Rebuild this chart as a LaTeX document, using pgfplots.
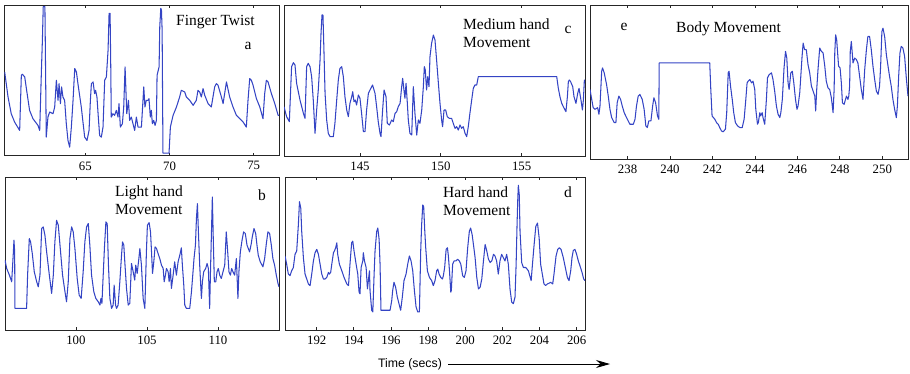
\documentclass[border=0pt]{standalone}
\usepackage{pgfplots}
\pgfplotsset{compat=1.18}
\usepackage{fontspec}
\setmainfont{Liberation Serif}
\newfontfamily\arialf{Liberation Sans}
\usetikzlibrary{arrows.meta}
\definecolor{sigblue}{RGB}{52,68,196}
\pgfplotsset{
  panel/.style={scale only axis, anchor=south west,
    axis line style={draw=black!85, line width=0.8pt},
    ytick=\empty, tick align=inside, major tick length=3pt,
    every tick/.style={black!85, line width=0.8pt},
    xticklabel style={font=\fontsize{12.8}{14}\selectfont, yshift=-2.5pt},
    /pgf/number format/assume math mode=true},
  sig/.style={sigblue, line width=1.05pt, mark=none, line join=round}
}
\newcommand{\lab}{\fontsize{15.5}{18}\selectfont}
\begin{document}
\begin{tikzpicture}
\useasboundingbox (0pt,0pt) rectangle (910pt,-373pt);
% ---- a: Finger Twist
\begin{axis}[panel, at={(4.5pt,-155.5pt)}, width=274.5pt, height=150.5pt,
  xmin=60.2, xmax=76.5, ymin=0, ymax=450, xtick={65,70,75}]
\addplot[sig] coordinates {(60.21,250)(60.41,175)(60.60,125)(60.80,100)(61.10,75)(61.20,240)(61.26,243)(61.40,235)(61.50,200)(61.69,135)(61.89,110)(62.19,90)(62.29,75)(62.39,250)(62.45,345)(62.50,445)(62.60,445)(62.64,250)(62.68,55)(62.78,115)(62.88,130)(63.08,125)(63.18,145)(63.28,225)(63.38,165)(63.44,215)(63.52,155)(63.59,205)(63.67,175)(63.77,165)(63.87,95)(63.97,45)(64.07,25)(64.17,85)(64.27,165)(64.37,260)(64.47,250)(64.56,215)(64.76,145)(64.96,55)(65.10,45)(65.22,75)(65.30,165)(65.36,215)(65.46,220)(65.55,185)(65.61,195)(65.69,175)(65.77,115)(65.85,60)(65.95,55)(66.05,85)(66.15,225)(66.25,235)(66.35,315)(66.41,425)(66.47,425)(66.51,265)(66.54,115)(66.64,125)(66.74,120)(66.84,135)(66.94,115)(67.00,155)(67.08,85)(67.20,95)(67.28,145)(67.36,265)(67.46,125)(67.56,165)(67.63,105)(67.73,115)(67.83,95)(67.93,75)(68.03,115)(68.13,85)(68.33,85)(68.47,205)(68.54,145)(68.62,165)(68.72,165)(68.78,170)(68.86,115)(68.92,135)(68.98,95)(69.06,105)(69.14,90)(69.22,105)(69.26,240)(69.38,265)(69.42,385)(69.48,440)(69.52,435)(69.56,375)(69.61,7)(69.97,7)(70.05,85)(70.21,120)(70.41,145)(70.60,175)(70.70,195)(70.90,190)(71.00,175)(71.20,165)(71.40,150)(71.59,165)(71.69,195)(71.79,190)(71.89,175)(71.99,200)(72.09,180)(72.29,155)(72.48,145)(72.68,205)(72.78,215)(72.88,210)(73.08,175)(73.18,155)(73.38,220)(73.57,175)(73.77,145)(73.97,120)(74.17,110)(74.37,100)(74.56,85)(74.66,165)(74.76,230)(74.86,225)(74.96,210)(75.16,170)(75.36,145)(75.55,110)(75.65,185)(75.75,225)(75.85,220)(76.05,185)(76.25,155)(76.45,120)(76.50,120)};
\end{axis}
% ---- c: Medium hand Movement
\begin{axis}[panel, at={(284pt,-156pt)}, width=301pt, height=151pt,
  xmin=140.3, xmax=158.92, ymin=0, ymax=453, xtick={145,150,155}]
\addplot[sig] coordinates {(140.30,148)(140.46,118)(140.63,103)(140.77,268)(140.88,280)(140.98,273)(141.08,218)(141.29,168)(141.50,128)(141.60,113)(141.70,268)(141.80,278)(141.91,268)(142.01,238)(142.11,168)(142.22,68)(142.32,138)(142.42,198)(142.53,288)(142.59,368)(142.65,423)(142.71,423)(142.77,318)(142.84,188)(142.94,108)(143.04,68)(143.15,58)(143.35,58)(143.45,98)(143.56,168)(143.66,228)(143.76,263)(143.87,268)(143.97,238)(144.07,178)(144.18,138)(144.28,118)(144.38,158)(144.49,178)(144.55,193)(144.63,163)(144.71,168)(144.79,153)(144.90,183)(145.00,173)(145.10,128)(145.21,73)(145.31,73)(145.41,138)(145.52,188)(145.62,198)(145.78,213)(145.93,188)(146.03,148)(146.13,103)(146.24,68)(146.30,58)(146.40,138)(146.49,198)(146.55,188)(146.61,178)(146.69,98)(146.82,93)(146.96,108)(147.06,103)(147.17,128)(147.27,133)(147.37,148)(147.48,158)(147.58,208)(147.64,233)(147.72,198)(147.78,173)(147.85,218)(147.93,158)(147.99,108)(148.09,68)(148.20,63)(148.30,208)(148.40,128)(148.51,63)(148.61,108)(148.71,98)(148.82,138)(148.92,208)(148.98,268)(149.04,258)(149.12,198)(149.19,238)(149.27,208)(149.33,298)(149.43,338)(149.54,363)(149.64,348)(149.74,288)(149.85,218)(149.95,158)(150.05,108)(150.11,88)(150.20,138)(150.30,138)(150.40,118)(150.53,113)(150.67,113)(150.77,98)(150.88,83)(150.98,88)(151.08,78)(151.19,93)(151.29,83)(151.39,88)(151.50,68)(151.60,58)(151.70,88)(151.80,128)(151.91,168)(152.01,203)(152.11,213)(152.22,213)(152.32,238)(157.17,238)(157.27,203)(157.37,178)(157.48,158)(157.58,148)(157.74,133)(157.83,178)(157.89,223)(157.95,228)(158.03,223)(158.16,208)(158.24,178)(158.36,158)(158.47,188)(158.55,203)(158.67,168)(158.76,138)(158.82,168)(158.88,228)(158.92,218)};
\end{axis}
% ---- e: Body Movement
\begin{axis}[panel, at={(590pt,-159pt)}, width=318pt, height=154pt,
  xmin=236.23, xmax=251.21, ymin=0, ymax=465, xtick={238,240,...,250}]
\addplot[sig] coordinates {(236.23,210)(236.31,180)(236.38,155)(236.46,150)(236.59,155)(236.65,135)(236.70,160)(236.78,265)(236.82,275)(236.90,260)(237.01,225)(237.09,190)(237.17,150)(237.25,125)(237.37,110)(237.45,110)(237.51,170)(237.59,190)(237.67,180)(237.75,160)(237.84,140)(237.95,125)(238.11,105)(238.27,105)(238.35,120)(238.42,160)(238.50,190)(238.58,195)(238.69,180)(238.78,150)(238.86,100)(238.93,95)(239.00,115)(239.10,115)(239.18,160)(239.24,185)(239.32,170)(239.41,130)(239.47,120)(239.49,290)(241.87,290)(241.92,210)(241.98,130)(242.11,120)(242.19,110)(242.27,105)(242.34,95)(242.42,85)(242.50,82)(242.61,90)(242.67,140)(242.74,260)(242.78,265)(242.85,220)(242.93,180)(243.00,140)(243.08,110)(243.18,100)(243.29,95)(243.40,95)(243.49,120)(243.57,180)(243.63,230)(243.68,235)(243.76,240)(243.84,230)(243.91,235)(243.99,210)(244.04,150)(244.12,105)(244.16,110)(244.23,140)(244.27,130)(244.34,140)(244.38,125)(244.46,105)(244.54,180)(244.59,245)(244.67,255)(244.78,260)(244.85,240)(244.93,205)(245.01,160)(245.09,135)(245.17,125)(245.22,140)(245.29,180)(245.37,275)(245.44,325)(245.50,305)(245.56,230)(245.61,210)(245.69,260)(245.76,265)(245.83,230)(245.91,180)(245.98,150)(246.03,160)(246.11,200)(246.16,250)(246.22,310)(246.27,350)(246.34,330)(246.42,330)(246.50,285)(246.58,260)(246.66,220)(246.74,205)(246.82,190)(246.86,145)(246.91,210)(246.97,270)(247.05,335)(247.13,325)(247.21,320)(247.29,280)(247.36,235)(247.44,215)(247.52,210)(247.60,185)(247.68,140)(247.73,210)(247.76,320)(247.80,375)(247.85,360)(247.94,280)(248.01,275)(248.07,230)(248.12,170)(248.20,165)(248.31,190)(248.38,180)(248.42,190)(248.46,220)(248.49,325)(248.54,355)(248.62,290)(248.70,305)(248.78,300)(248.85,290)(248.93,250)(249.01,210)(249.09,180)(249.17,270)(249.25,330)(249.32,370)(249.40,370)(249.48,330)(249.56,280)(249.64,240)(249.72,205)(249.80,195)(249.87,220)(249.92,280)(249.98,385)(250.03,395)(250.11,370)(250.19,315)(250.27,280)(250.34,250)(250.42,220)(250.50,180)(250.58,150)(250.66,125)(250.71,160)(250.77,250)(250.83,320)(250.89,340)(250.97,335)(251.05,310)(251.13,245)(251.21,190)};
\end{axis}
% ---- b: Light hand Movement
\begin{axis}[panel, at={(5pt,-330pt)}, width=274pt, height=153pt,
  xmin=95.01, xmax=114.29, ymin=0, ymax=460, xtick={100,105,110}]
\addplot[sig] coordinates {(95.01,210)(95.13,185)(95.32,165)(95.48,145)(95.60,235)(95.64,270)(95.69,235)(95.71,65)(96.53,65)(96.60,165)(96.72,275)(96.81,265)(96.93,230)(97.07,175)(97.24,145)(97.35,130)(97.47,165)(97.59,305)(97.70,310)(97.82,285)(97.94,235)(98.13,165)(98.29,110)(98.41,165)(98.52,265)(98.64,330)(98.76,315)(98.88,255)(99.06,165)(99.23,115)(99.34,85)(99.46,145)(99.58,275)(99.70,310)(99.81,295)(99.93,245)(100.09,155)(100.23,105)(100.37,95)(100.51,175)(100.63,265)(100.75,310)(100.87,320)(100.98,255)(101.10,165)(101.26,115)(101.40,95)(101.57,85)(101.69,75)(101.76,95)(101.83,80)(101.92,165)(102.01,250)(102.11,325)(102.20,320)(102.29,195)(102.39,95)(102.51,65)(102.62,75)(102.69,135)(102.79,75)(102.86,65)(102.97,75)(103.09,145)(103.21,225)(103.28,265)(103.37,255)(103.44,205)(103.56,125)(103.68,75)(103.79,80)(103.91,200)(104.03,175)(104.14,150)(104.21,195)(104.31,170)(104.43,215)(104.50,245)(104.61,195)(104.73,95)(104.85,65)(104.96,235)(105.03,315)(105.15,323)(105.25,295)(105.32,235)(105.39,170)(105.48,205)(105.57,250)(105.67,245)(105.78,230)(105.90,215)(106.02,195)(106.14,185)(106.21,145)(106.30,165)(106.37,185)(106.49,175)(106.56,145)(106.65,185)(106.72,125)(106.84,165)(106.95,205)(107.07,165)(107.19,205)(107.31,225)(107.42,247)(107.49,195)(107.59,135)(107.66,75)(107.77,65)(107.89,65)(108.01,65)(108.13,115)(108.24,175)(108.31,215)(108.41,255)(108.48,335)(108.55,380)(108.62,295)(108.71,195)(108.83,95)(108.90,145)(108.99,175)(109.13,185)(109.23,200)(109.32,185)(109.41,65)(109.48,195)(109.55,315)(109.60,400)(109.67,265)(109.74,145)(109.84,145)(109.93,175)(110.02,185)(110.12,165)(110.23,155)(110.35,175)(110.47,195)(110.58,295)(110.68,235)(110.77,175)(110.87,165)(110.96,185)(111.05,175)(111.17,165)(111.29,215)(111.40,95)(111.47,175)(111.57,235)(111.69,270)(111.80,295)(111.92,290)(112.04,255)(112.13,245)(112.22,235)(112.34,260)(112.41,280)(112.53,305)(112.65,290)(112.74,255)(112.83,225)(112.97,205)(113.16,190)(113.28,215)(113.40,260)(113.51,295)(113.63,290)(113.75,255)(113.86,215)(113.98,195)(114.10,165)(114.22,140)(114.29,130)};
\end{axis}
% ---- d: Hard hand Movement
\begin{axis}[panel, at={(285pt,-330pt)}, width=300pt, height=153pt,
  xmin=190.29, xmax=206.45, ymin=0, ymax=465, xtick={192,194,...,206}]
\addplot[sig] coordinates {(190.29,225)(190.38,200)(190.47,170)(190.56,165)(190.65,180)(190.74,190)(190.83,230)(190.92,240)(191.01,320)(191.07,390)(191.14,370)(191.19,300)(191.28,220)(191.37,170)(191.46,155)(191.55,140)(191.64,135)(191.73,170)(191.82,210)(191.91,235)(192.00,245)(192.09,230)(192.18,200)(192.27,170)(192.36,155)(192.45,155)(192.54,160)(192.63,175)(192.68,170)(192.75,175)(192.81,200)(192.90,235)(192.95,240)(193.02,250)(193.08,265)(193.13,230)(193.22,200)(193.35,180)(193.47,160)(193.62,140)(193.71,135)(193.79,200)(193.88,265)(193.94,270)(194.01,240)(194.12,200)(194.21,170)(194.28,115)(194.33,110)(194.39,190)(194.48,210)(194.51,235)(194.57,210)(194.66,190)(194.73,125)(194.78,150)(194.84,180)(194.87,120)(194.96,60)(195.02,55)(195.09,170)(195.14,240)(195.23,300)(195.29,310)(195.36,275)(195.41,200)(195.46,60)(195.95,60)(196.04,90)(196.09,120)(196.16,145)(196.25,130)(196.34,100)(196.43,80)(196.52,60)(196.61,100)(196.70,150)(196.81,170)(196.90,200)(196.99,225)(197.08,210)(197.17,180)(197.26,120)(197.35,70)(197.44,55)(197.53,55)(197.60,240)(197.65,320)(197.71,380)(197.76,375)(197.82,300)(197.87,250)(197.96,180)(198.07,160)(198.19,150)(198.28,135)(198.37,150)(198.46,180)(198.52,185)(198.59,170)(198.68,160)(198.77,155)(198.82,165)(198.89,190)(198.97,245)(199.04,250)(199.09,225)(199.15,180)(199.22,115)(199.25,120)(199.32,200)(199.40,210)(199.50,210)(199.59,215)(199.68,210)(199.76,200)(199.86,165)(199.95,160)(200.04,180)(200.13,250)(200.22,300)(200.29,310)(200.37,290)(200.44,260)(200.53,220)(200.62,160)(200.71,125)(200.80,130)(200.89,155)(200.98,210)(201.07,260)(201.16,240)(201.25,215)(201.34,205)(201.43,210)(201.52,230)(201.60,225)(201.69,210)(201.78,170)(201.87,210)(201.96,230)(202.05,220)(202.14,210)(202.23,230)(202.32,200)(202.41,125)(202.50,85)(202.59,80)(202.68,100)(202.74,200)(202.79,320)(202.83,400)(202.86,440)(202.91,410)(202.95,300)(203.04,205)(203.13,190)(203.26,190)(203.40,180)(203.55,150)(203.62,200)(203.71,260)(203.80,315)(203.89,325)(203.98,280)(204.06,200)(204.15,170)(204.24,140)(204.33,135)(204.42,140)(204.51,142)(204.60,145)(204.71,140)(204.78,170)(204.89,225)(204.98,245)(205.07,250)(205.16,245)(205.28,220)(205.39,190)(205.50,160)(205.59,150)(205.68,180)(205.75,220)(205.82,242)(205.91,245)(206.00,230)(206.09,210)(206.18,195)(206.29,175)(206.38,155)(206.45,150)};
\end{axis}
% ---- annotations
\node[anchor=base west, inner sep=0pt, font=\lab] at (176pt,-25.5pt) {Finger Twist};
\node[anchor=base, inner sep=0pt, font=\lab] at (248pt,-49pt) {a};
\node[anchor=base west, inner sep=0pt, font=\lab] at (463pt,-29.5pt) {Medium hand};
\node[anchor=base west, inner sep=0pt, font=\lab] at (463pt,-47.5pt) {Movement};
\node[anchor=base, inner sep=0pt, font=\lab] at (568pt,-33pt) {c};
\node[anchor=base, inner sep=0pt, font=\lab] at (624pt,-30pt) {e};
\node[anchor=base west, inner sep=0pt, font=\lab] at (676pt,-32pt) {Body Movement};
\node[anchor=base west, inner sep=0pt, font=\lab] at (115pt,-196pt) {Light hand};
\node[anchor=base west, inner sep=0pt, font=\lab] at (115pt,-214pt) {Movement};
\node[anchor=base, inner sep=0pt, font=\lab] at (262pt,-200pt) {b};
\node[anchor=base west, inner sep=0pt, font=\lab] at (443pt,-197.5pt) {Hard hand};
\node[anchor=base west, inner sep=0pt, font=\lab] at (443pt,-215.5pt) {Movement};
\node[anchor=base, inner sep=0pt, font=\lab] at (568pt,-197pt) {d};
\node[anchor=center, inner sep=0pt, font=\arialf\fontsize{12.3}{14}\selectfont] at (410pt,-364pt) {Time (secs)};
\draw[black, line width=0.9pt, -{Stealth[length=14pt,width=8pt]}] (448pt,-364pt) -- (610pt,-364pt);
\end{tikzpicture}
\end{document}
